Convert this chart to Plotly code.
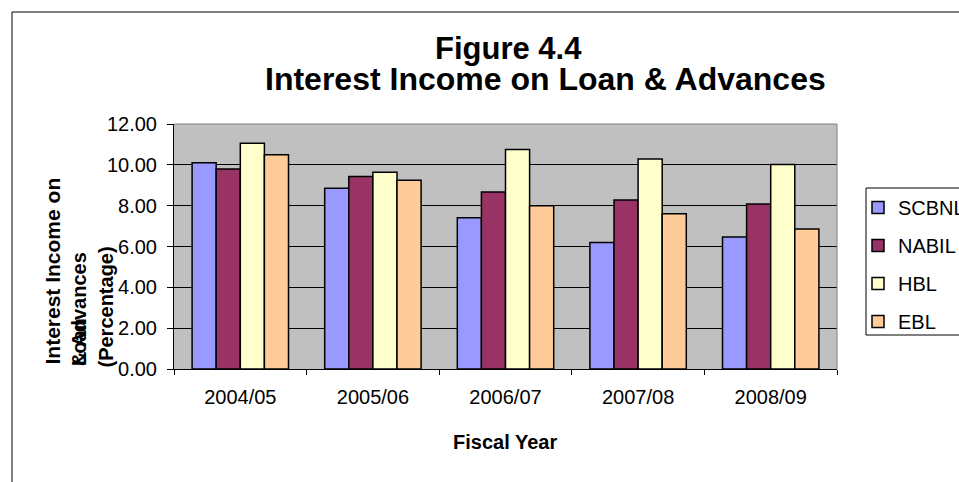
import plotly.graph_objects as go

# Fiscal years and interest income on loans & advances (percent) per bank
fiscal_years = ["2004/05", "2005/06", "2006/07", "2007/08", "2008/09"]
scbnl = [10.10, 8.85, 7.41, 6.19, 6.46]
nabil = [9.80, 9.43, 8.67, 8.28, 8.08]
hbl = [11.06, 9.64, 10.75, 10.29, 10.02]
ebl = [10.49, 9.25, 7.99, 7.61, 6.86]

bank_names = ["SCBNL", "NABIL", "HBL", "EBL"]
bank_colors = ["#9999FF", "#993366", "#FFFFCC", "#FFCC99"]
y_ticks = [0, 2, 4, 6, 8, 10, 12]

W, H = 959, 482
PL, PR, PT, PB = 174, 837, 124, 369  # plot area in pixels


def px_x(px):
    return (px - PL) / (PR - PL)


def px_y(py):
    return (PB - py) / (PB - PT)


FONT = "Liberation Sans, Arial, sans-serif"

fig = go.Figure()
for name, vals, col in zip(bank_names, [scbnl, nabil, hbl, ebl], bank_colors):
    fig.add_trace(go.Bar(
        x=fiscal_years, y=vals, name=name, legendgroup=name,
        marker=dict(color=col, line=dict(color="black", width=1.5)),
    ))

annotations = [
    dict(text="<b>Figure 4.4</b>", x=px_x(508), y=px_y(48), xref="paper", yref="paper",
         xanchor="center", yanchor="middle", showarrow=False,
         font=dict(family=FONT, size=31, color="black")),
    dict(text="<b>Interest Income on Loan & Advances</b>", x=px_x(545), y=px_y(79),
         xref="paper", yref="paper", xanchor="center", yanchor="middle", showarrow=False,
         font=dict(family=FONT, size=32, color="black")),
    dict(text="<b>Fiscal Year</b>", x=px_x(505), y=px_y(442), xref="paper", yref="paper",
         xanchor="center", yanchor="middle", showarrow=False,
         font=dict(family=FONT, size=20, color="black")),
]

# Wrapped y-axis title, each line placed on its own column
ytitle_lines = [
    ("<b>Interest Income on</b>", 52, 366, 21),
    ("<b>& Advances</b>", 79, 368, 20),
    ("<b>Loan</b>", 79, 368, 20),
    ("<b>(Percentage)</b>", 105, 370, 20),
]
for txt, cx, by, fs in ytitle_lines:
    annotations.append(dict(
        text=txt, x=px_x(cx), y=px_y(by), xref="paper", yref="paper",
        xanchor="center", yanchor="bottom", textangle=-90, showarrow=False,
        font=dict(family=FONT, size=fs, color="black")))

shapes = [
    # chart area frame
    dict(type="rect", xref="paper", yref="paper", x0=px_x(12), x1=px_x(975),
         y0=px_y(495), y1=px_y(12), line=dict(color="black", width=1), layer="below"),
    # plot area top/right border
    dict(type="line", xref="paper", yref="paper", x0=0, x1=1, y0=1, y1=1,
         line=dict(color="#808080", width=1), layer="above"),
    dict(type="line", xref="paper", yref="paper", x0=1, x1=1, y0=0, y1=1,
         line=dict(color="#808080", width=1), layer="above"),
    # legend frame
    dict(type="rect", xref="paper", yref="paper", x0=px_x(866), x1=px_x(975),
         y0=px_y(335), y1=px_y(188), line=dict(color="black", width=1)),
]

fig.update_layout(
    width=W, height=H,
    margin=dict(l=PL, r=W - PR, t=PT, b=H - PB, autoexpand=False),
    paper_bgcolor="white", plot_bgcolor="#C0C0C0",
    barmode="group", bargap=0.273, bargroupgap=0,
    font=dict(family=FONT, size=20, color="black"),
    showlegend=True,
    legend=dict(x=px_x(858), y=px_y(188), xanchor="left", yanchor="top",
                bgcolor="rgba(0,0,0,0)", borderwidth=0, tracegroupgap=9,
                font=dict(family=FONT, size=20, color="black")),
    annotations=annotations, shapes=shapes,
)
fig.update_xaxes(
    type="category", range=[-0.5, 4.5], tickson="boundaries",
    ticks="outside", ticklen=5, tickcolor="black", tickwidth=1,
    showline=True, linecolor="black", linewidth=1, showgrid=False,
    ticklabelstandoff=10,
    tickfont=dict(family=FONT, size=20, color="black"),
)
fig.update_yaxes(
    range=[0, 12], tickvals=y_ticks, tickformat=".2f",
    ticks="outside", ticklen=6, tickcolor="black", tickwidth=1,
    showline=True, linecolor="black", linewidth=1,
    showgrid=True, gridcolor="black", gridwidth=1, zeroline=False,
    ticklabelstandoff=6,
    tickfont=dict(family=FONT, size=20, color="black"),
)

fig.write_html("out.html")
